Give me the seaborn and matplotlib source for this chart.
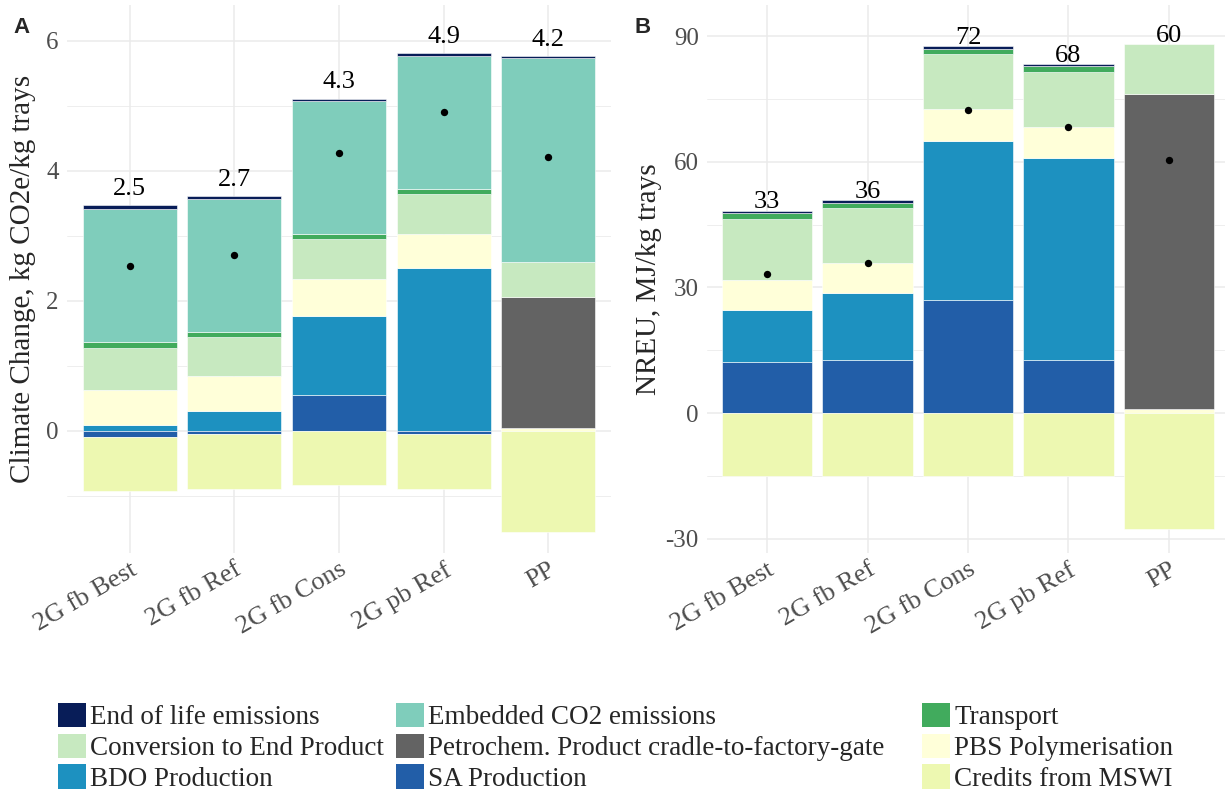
import numpy as np
import matplotlib
matplotlib.use("Agg")
import matplotlib.pyplot as plt
from matplotlib.patches import Patch
import seaborn as sns

scenarios = ["2G fb Best", "2G fb Ref", "2G fb Cons", "2G pb Ref", "PP"]

categories = ["End of life emissions", "Embedded CO2 emissions", "Transport",
              "Conversion to End Product", "Petrochem. Product cradle-to-factory-gate",
              "PBS Polymerisation", "BDO Production", "SA Production", "Credits from MSWI"]
colors = ["#081D58", "#7FCDBB", "#41AB5D", "#C7E9C0", "#636363",
          "#FFFFD9", "#1D91C0", "#225EA8", "#EDF8B1"]

# A - climate change, kg CO2e/kg trays
cc_eol = [0.06, 0.04, 0.03, 0.05, 0.02]
cc_embedded = [2.04, 2.05, 2.06, 2.04, 3.15]
cc_transport = [0.09, 0.07, 0.07, 0.07, 0.0]
cc_conversion = [0.65, 0.61, 0.61, 0.63, 0.53]
cc_petrochem = [0.0, 0.0, 0.0, 0.0, 2.01]
cc_pbs = [0.54, 0.53, 0.57, 0.52, 0.05]
cc_bdo = [0.09, 0.31, 1.22, 2.50, 0.0]
cc_sa = [-0.09, -0.05, 0.55, -0.05, 0.0]
cc_credits = [-0.84, -0.85, -0.83, -0.85, -1.55]

# B - NREU, MJ/kg trays
nreu_eol = [0.5, 0.6, 0.6, 0.4, 0.0]
nreu_embedded = [0.0, 0.0, 0.0, 0.0, 0.0]
nreu_transport = [1.4, 1.2, 1.3, 1.4, 0.0]
nreu_conversion = [14.6, 13.1, 13.1, 13.3, 11.9]
nreu_petrochem = [0.0, 0.0, 0.0, 0.0, 75.2]
nreu_pbs = [7.2, 7.2, 7.5, 7.2, 0.9]
nreu_bdo = [12.5, 16.0, 38.0, 48.3, 0.0]
nreu_sa = [12.1, 12.7, 27.0, 12.7, 0.0]
nreu_credits = [-15.1, -15.1, -15.1, -15.1, -27.6]

cc = dict(zip(categories, [cc_eol, cc_embedded, cc_transport, cc_conversion, cc_petrochem,
                           cc_pbs, cc_bdo, cc_sa, cc_credits]))
nreu = dict(zip(categories, [nreu_eol, nreu_embedded, nreu_transport, nreu_conversion,
                             nreu_petrochem, nreu_pbs, nreu_bdo, nreu_sa, nreu_credits]))

sns.set_theme(style="whitegrid")
plt.rcParams["font.family"] = ["Liberation Serif", "DejaVu Serif"]
plt.rcParams["axes.unicode_minus"] = False

fig = plt.figure(figsize=(12.25, 7.91), dpi=100)


def draw_panel(ax, values, fmt, text_dy):
    x = np.arange(len(scenarios))
    pos = np.zeros(len(scenarios))
    neg = np.zeros(len(scenarios))
    # positives: last level sits on zero
    for cat, col in zip(categories[::-1], colors[::-1]):
        v = np.array(values[cat])
        m = v > 0
        if m.any():
            ax.bar(x[m], v[m], bottom=pos[m], width=0.9, color=col,
                   edgecolor="white", linewidth=0.4, zorder=2)
        pos[m] += v[m]
    for cat, col in zip(categories, colors):
        v = np.array(values[cat])
        m = v < 0
        if m.any():
            ax.bar(x[m], v[m], bottom=neg[m], width=0.9, color=col,
                   edgecolor="white", linewidth=0.4, zorder=2)
        neg[m] += v[m]
    net = pos + neg
    sns.scatterplot(x=x, y=net, color="black", s=28, linewidth=0, ax=ax, zorder=3)
    for xi, top, val in zip(x, pos, net):
        ax.annotate(fmt.format(val), (xi, top), xytext=(0, text_dy),
                    textcoords="offset points", ha="center", va="bottom",
                    fontsize=19, color="black")
    ax.set_xticks(x)
    ax.set_xticklabels(scenarios, rotation=30, ha="right", va="top",
                       rotation_mode="anchor")
    ax.grid(True, which="major", color="#EBEBEB", linewidth=1.1)
    ax.grid(True, which="minor", axis="y", color="#EBEBEB", linewidth=0.6)
    ax.set_axisbelow(True)
    for s in ax.spines.values():
        s.set_visible(False)
    ax.tick_params(axis="both", which="both", length=0, labelsize=18,
                   labelcolor="#4D4D4D")
    ax.tick_params(axis="y", pad=6)
    ax.tick_params(axis="x", pad=4, labelsize=19)


axA = fig.add_axes([67 / 1225, 1 - 553 / 791, 544 / 1225, 548 / 791])
axB = fig.add_axes([707 / 1225, 1 - 553 / 791, 518 / 1225, 548 / 791])

draw_panel(axA, cc, "{:.1f}", 4)
axA.set_xlim(-0.6, 4.6)
axA.set_ylim(-1.88, 6.55)
axA.set_yticks([0, 2, 4, 6])
axA.set_yticks([-1, 1, 3, 5], minor=True)
axA.set_ylabel("Climate Change, kg CO2e/kg trays", fontsize=21)
axA.yaxis.set_label_coords(-0.057, 0.5)

draw_panel(axB, nreu, "{:.0f}", -2)
axB.set_xlim(-0.6, 4.56)
axB.set_ylim(-33.4, 97.4)
axB.set_yticks([-30, 0, 30, 60, 90])
axB.set_yticks([-15, 15, 45, 75], minor=True)
axB.set_ylabel("NREU, MJ/kg trays", fontsize=21)
axB.yaxis.set_label_coords(-0.087, 0.5)

fig.text(13 / 1225, 1 - 17 / 791, "A", family="Liberation Sans", weight="bold",
         fontsize=16, va="top", ha="left")
fig.text(635 / 1225, 1 - 17 / 791, "B", family="Liberation Sans", weight="bold",
         fontsize=16, va="top", ha="left")

# legend laid out by rows, three columns at fixed positions
col_x = [58, 396, 922]
for c in range(3):
    idx = [c, c + 3, c + 6]
    handles = [Patch(facecolor=colors[i], edgecolor="none") for i in idx]
    labels = [categories[i] for i in idx]
    fig.legend(handles, labels, loc="upper left",
               bbox_to_anchor=(col_x[c] / 1225, 1 - 703 / 791),
               frameon=False, fontsize=19.5, handlelength=1.05, handleheight=1.0,
               handletextpad=0.15, labelspacing=0.12, borderpad=0, borderaxespad=0)

fig.savefig("out.png", dpi=100, facecolor="white")
